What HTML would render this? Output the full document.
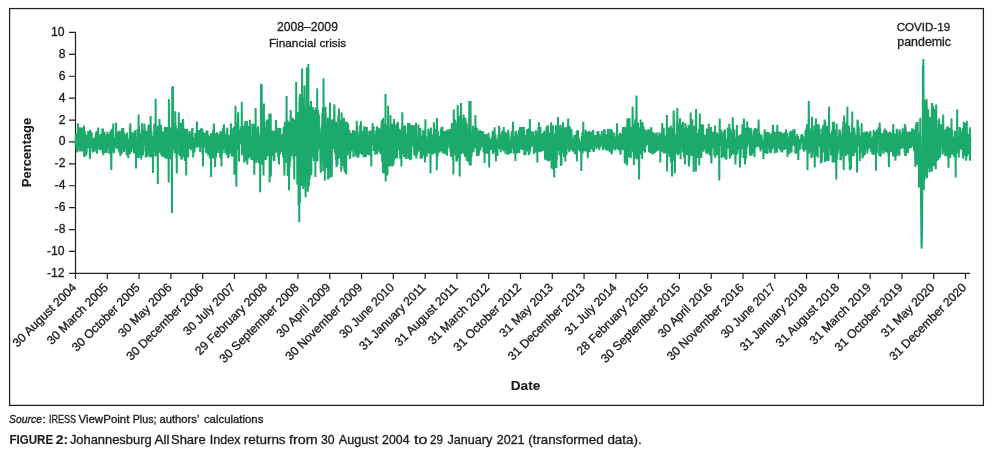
<!DOCTYPE html>
<html lang="en"><head><meta charset="utf-8"><title>Figure 2</title>
<style>
html,body{margin:0;padding:0;background:#fff;}
body{width:993px;height:459px;overflow:hidden;font-family:"Liberation Sans",sans-serif;color:#231f20;}
svg{display:block;position:absolute;left:0;top:0;}
text{font-family:"Liberation Sans",sans-serif;fill:#1f1b1d;stroke:#1f1b1d;stroke-width:0.32px;}
.tk{font-size:12.15px;}
.xl{font-size:12.12px;}
.b{font-weight:bold;stroke-width:0.12px;}
</style></head><body>
<svg width="993" height="459" viewBox="0 0 993 459">
<rect x="9.6" y="8.55" width="973.8" height="396.85" fill="#fff" stroke="#231f20" stroke-width="1.25"/>
<path d="M75.5,31.85 V278.9 M69,273.4 H970.1" fill="none" stroke="#231f20" stroke-width="1.2"/>
<text class="tk" x="64.6" y="36.0" text-anchor="end">10</text>
<text class="tk" x="65.4" y="57.9" text-anchor="end">8</text>
<text class="tk" x="65.4" y="79.8" text-anchor="end">6</text>
<text class="tk" x="65.4" y="101.6" text-anchor="end">4</text>
<text class="tk" x="65.4" y="123.5" text-anchor="end">2</text>
<text class="tk" x="65.4" y="145.4" text-anchor="end">0</text>
<text class="tk" x="65.4" y="167.3" text-anchor="end">-2</text>
<text class="tk" x="65.4" y="189.2" text-anchor="end">-4</text>
<text class="tk" x="65.4" y="211.1" text-anchor="end">-6</text>
<text class="tk" x="65.4" y="233.1" text-anchor="end">-8</text>
<text class="tk" x="64.6" y="254.9" text-anchor="end">-10</text>
<text class="tk" x="64.6" y="276.8" text-anchor="end">-12</text>
<path d="M69,32.45 H75.5 M69,54.35 H75.5 M69,76.25 H75.5 M69,98.15 H75.5 M69,120.05 H75.5 M69,141.95 H75.5 M69,163.85 H75.5 M69,185.75 H75.5 M69,207.65 H75.5 M69,229.55 H75.5 M69,251.45 H75.5" stroke="#231f20" stroke-width="1.2" fill="none"/>
<text class="xl" transform="translate(77.0,288.2) rotate(-45)" text-anchor="end">30 August 2004</text>
<text class="xl" transform="translate(108.8,288.2) rotate(-45)" text-anchor="end">30 March 2005</text>
<text class="xl" transform="translate(140.6,288.2) rotate(-45)" text-anchor="end">30 October 2005</text>
<text class="xl" transform="translate(172.4,288.2) rotate(-45)" text-anchor="end">30 May 2006</text>
<text class="xl" transform="translate(204.1,288.2) rotate(-45)" text-anchor="end">30 December 2006</text>
<text class="xl" transform="translate(235.9,288.2) rotate(-45)" text-anchor="end" textLength="67.6" lengthAdjust="spacingAndGlyphs">30 July 2007</text>
<text class="xl" transform="translate(267.7,288.2) rotate(-45)" text-anchor="end">29 February 2008</text>
<text class="xl" transform="translate(299.5,288.2) rotate(-45)" text-anchor="end">30 September 2008</text>
<text class="xl" transform="translate(331.3,288.2) rotate(-45)" text-anchor="end">30 April 2009</text>
<text class="xl" transform="translate(363.1,288.2) rotate(-45)" text-anchor="end">30 November 2009</text>
<text class="xl" transform="translate(394.9,288.2) rotate(-45)" text-anchor="end" textLength="71.6" lengthAdjust="spacingAndGlyphs">30 June 2010</text>
<text class="xl" transform="translate(426.6,288.2) rotate(-45)" text-anchor="end" textLength="88.6" lengthAdjust="spacingAndGlyphs">31 January 2011</text>
<text class="xl" transform="translate(458.4,288.2) rotate(-45)" text-anchor="end">31 August 2011</text>
<text class="xl" transform="translate(490.2,288.2) rotate(-45)" text-anchor="end">31 March 2012</text>
<text class="xl" transform="translate(522.0,288.2) rotate(-45)" text-anchor="end">31 October 2012</text>
<text class="xl" transform="translate(553.8,288.2) rotate(-45)" text-anchor="end">31 May 2013</text>
<text class="xl" transform="translate(585.6,288.2) rotate(-45)" text-anchor="end">31 December 2013</text>
<text class="xl" transform="translate(617.4,288.2) rotate(-45)" text-anchor="end" textLength="67.6" lengthAdjust="spacingAndGlyphs">31 July 2014</text>
<text class="xl" transform="translate(649.1,288.2) rotate(-45)" text-anchor="end">28 February 2015</text>
<text class="xl" transform="translate(680.9,288.2) rotate(-45)" text-anchor="end">30 September 2015</text>
<text class="xl" transform="translate(712.7,288.2) rotate(-45)" text-anchor="end">30 April 2016</text>
<text class="xl" transform="translate(744.5,288.2) rotate(-45)" text-anchor="end">30 November 2016</text>
<text class="xl" transform="translate(776.3,288.2) rotate(-45)" text-anchor="end" textLength="71.6" lengthAdjust="spacingAndGlyphs">30 June 2017</text>
<text class="xl" transform="translate(808.1,288.2) rotate(-45)" text-anchor="end" textLength="89.5" lengthAdjust="spacingAndGlyphs">31 January 2018</text>
<text class="xl" transform="translate(839.9,288.2) rotate(-45)" text-anchor="end">31 August 2018</text>
<text class="xl" transform="translate(871.7,288.2) rotate(-45)" text-anchor="end">31 March 2019</text>
<text class="xl" transform="translate(903.4,288.2) rotate(-45)" text-anchor="end">31 October 2019</text>
<text class="xl" transform="translate(935.2,288.2) rotate(-45)" text-anchor="end">31 May 2020</text>
<text class="xl" transform="translate(967.0,288.2) rotate(-45)" text-anchor="end">31 December 2020</text>
<path d="M107.29,273.4 v5.5 M139.07,273.4 v5.5 M170.86,273.4 v5.5 M202.64,273.4 v5.5 M234.43,273.4 v5.5 M266.22,273.4 v5.5 M298.00,273.4 v5.5 M329.79,273.4 v5.5 M361.57,273.4 v5.5 M393.36,273.4 v5.5 M425.15,273.4 v5.5 M456.93,273.4 v5.5 M488.72,273.4 v5.5 M520.50,273.4 v5.5 M552.29,273.4 v5.5 M584.08,273.4 v5.5 M615.86,273.4 v5.5 M647.65,273.4 v5.5 M679.43,273.4 v5.5 M711.22,273.4 v5.5 M743.01,273.4 v5.5 M774.79,273.4 v5.5 M806.58,273.4 v5.5 M838.36,273.4 v5.5 M870.15,273.4 v5.5 M901.94,273.4 v5.5 M933.72,273.4 v5.5 M965.51,273.4 v5.5" stroke="#231f20" stroke-width="1.2" fill="none"/>
<path d="M75.5,141.8 75.7,144.5 75.9,139.3 76.2,133.7 76.4,145.9 76.6,150.8 76.8,141.3 77.0,152.4 77.2,146.3 77.5,136.2 77.7,146.3 77.9,123.2 78.1,140.7 78.3,148.4 78.6,141.5 78.8,146.8 79.0,127.2 79.2,145.1 79.4,151.3 79.6,151.0 79.9,127.3 80.1,143.5 80.3,128.2 80.5,143.8 80.7,140.2 81.0,139.8 81.2,151.5 81.4,145.7 81.6,141.3 81.8,142.7 82.0,127.6 82.3,146.2 82.5,150.7 82.7,149.2 82.9,151.5 83.1,134.7 83.4,142.1 83.6,134.0 83.8,136.7 84.0,125.4 84.2,157.2 84.5,141.3 84.7,130.7 84.9,142.6 85.1,155.2 85.3,155.2 85.5,134.1 85.8,143.0 86.0,136.0 86.2,155.3 86.4,135.0 86.6,152.9 86.9,141.2 87.1,147.2 87.3,140.3 87.5,136.3 87.7,142.5 87.9,148.0 88.2,131.0 88.4,148.1 88.6,143.7 88.8,137.6 89.0,143.2 89.3,131.0 89.5,136.5 89.7,143.9 89.9,158.9 90.1,153.7 90.3,129.8 90.6,134.6 90.8,148.6 91.0,132.0 91.2,138.4 91.4,142.6 91.7,132.5 91.9,147.3 92.1,139.4 92.3,144.8 92.5,140.0 92.7,152.4 93.0,145.2 93.2,138.7 93.4,138.1 93.6,142.8 93.8,139.8 94.1,151.0 94.3,141.7 94.5,145.5 94.7,151.5 94.9,147.2 95.1,141.6 95.4,136.3 95.6,144.7 95.8,133.1 96.0,141.9 96.2,146.7 96.5,131.1 96.7,139.0 96.9,153.0 97.1,153.0 97.3,139.3 97.5,149.3 97.8,143.2 98.0,132.9 98.2,127.6 98.4,147.1 98.6,140.5 98.9,146.0 99.1,140.7 99.3,143.6 99.5,137.1 99.7,146.0 99.9,150.2 100.2,142.5 100.4,142.1 100.6,133.7 100.8,143.9 101.0,148.8 101.3,149.7 101.5,143.4 101.7,141.2 101.9,147.8 102.1,143.1 102.4,128.4 102.6,153.3 102.8,145.5 103.0,128.5 103.2,133.4 103.4,155.4 103.7,134.3 103.9,150.5 104.1,149.8 104.3,140.8 104.5,131.7 104.8,152.1 105.0,152.8 105.2,141.3 105.4,144.1 105.6,140.6 105.8,134.4 106.1,150.9 106.3,146.3 106.5,141.4 106.7,135.5 106.9,136.9 107.2,153.1 107.4,131.8 107.6,140.6 107.8,134.2 108.0,141.7 108.2,148.0 108.5,139.2 108.7,146.9 108.9,141.8 109.1,145.2 109.3,138.8 109.6,153.9 109.8,133.6 110.0,154.0 110.2,135.0 110.4,131.1 110.6,144.9 110.9,156.8 111.1,156.8 111.3,169.9 111.5,148.9 111.7,129.1 112.0,150.1 112.2,141.6 112.4,142.7 112.6,134.7 112.8,137.5 113.0,137.5 113.3,123.6 113.5,151.4 113.7,152.3 113.9,153.3 114.1,137.8 114.4,144.4 114.6,141.6 114.8,145.7 115.0,146.2 115.2,137.2 115.4,144.9 115.7,140.7 115.9,141.7 116.1,122.6 116.3,148.7 116.5,139.0 116.8,137.7 117.0,132.0 117.2,134.9 117.4,133.9 117.6,143.1 117.8,137.4 118.1,148.6 118.3,135.0 118.5,149.9 118.7,145.8 118.9,130.8 119.2,152.7 119.4,149.4 119.6,147.1 119.8,151.2 120.0,130.9 120.3,156.1 120.5,154.1 120.7,130.9 120.9,135.1 121.1,152.7 121.3,141.7 121.6,150.9 121.8,153.9 122.0,128.2 122.2,144.2 122.4,141.4 122.7,144.1 122.9,141.5 123.1,149.6 123.3,128.1 123.5,143.4 123.7,131.9 124.0,151.9 124.2,137.3 124.4,142.3 124.6,144.9 124.8,149.3 125.1,135.9 125.3,149.4 125.5,133.9 125.7,143.3 125.9,134.8 126.1,145.3 126.4,138.3 126.6,154.8 126.8,154.8 127.0,132.5 127.2,140.9 127.5,141.7 127.7,154.8 127.9,146.3 128.1,149.1 128.3,158.3 128.5,142.6 128.8,138.7 129.0,152.2 129.2,141.6 129.4,153.8 129.6,148.1 129.9,127.4 130.1,153.9 130.3,123.2 130.5,128.0 130.7,142.3 130.9,152.1 131.2,132.1 131.4,151.7 131.6,140.2 131.8,141.3 132.0,142.3 132.3,141.4 132.5,148.9 132.7,136.1 132.9,140.0 133.1,132.8 133.3,137.4 133.6,147.9 133.8,132.4 134.0,153.2 134.2,140.7 134.4,141.9 134.7,130.3 134.9,153.8 135.1,130.3 135.3,137.8 135.5,147.9 135.8,144.8 136.0,168.5 136.2,143.8 136.4,142.3 136.6,141.1 136.8,150.6 137.1,139.2 137.3,143.9 137.5,129.0 137.7,145.8 137.9,141.8 138.2,157.7 138.4,135.6 138.6,114.5 138.8,157.9 139.0,126.2 139.2,153.6 139.5,130.2 139.7,149.5 139.9,143.1 140.1,144.3 140.3,138.6 140.6,139.2 140.8,142.5 141.0,157.3 141.2,134.6 141.4,159.4 141.6,133.8 141.9,149.5 142.1,123.3 142.3,134.8 142.5,142.7 142.7,137.0 143.0,155.3 143.2,140.9 143.4,129.7 143.6,136.4 143.8,144.5 144.0,138.8 144.3,143.1 144.5,123.5 144.7,144.6 144.9,130.1 145.1,129.7 145.4,151.0 145.6,133.9 145.8,157.7 146.0,138.4 146.2,135.2 146.4,143.9 146.7,141.9 146.9,130.8 147.1,146.9 147.3,156.5 147.5,139.0 147.8,139.6 148.0,153.3 148.2,137.6 148.4,125.2 148.6,127.1 148.8,124.8 149.1,152.2 149.3,127.4 149.5,157.1 149.7,144.8 149.9,134.5 150.2,124.1 150.4,139.6 150.6,116.1 150.8,126.6 151.0,142.3 151.2,157.3 151.5,130.9 151.7,152.8 151.9,151.8 152.1,136.1 152.3,138.5 152.6,144.7 152.8,138.9 153.0,173.1 153.2,146.0 153.4,141.3 153.7,139.1 153.9,143.0 154.1,148.9 154.3,123.8 154.5,150.1 154.7,142.5 155.0,129.1 155.2,146.1 155.4,156.6 155.6,98.7 155.8,133.7 156.1,149.7 156.3,143.5 156.5,129.1 156.7,138.3 156.9,132.4 157.1,148.3 157.4,155.3 157.6,138.8 157.8,184.0 158.0,125.6 158.2,142.4 158.5,143.6 158.7,125.8 158.9,143.0 159.1,153.1 159.3,127.2 159.5,118.9 159.8,152.5 160.0,146.5 160.2,146.9 160.4,140.1 160.6,136.7 160.9,137.4 161.1,124.8 161.3,155.0 161.5,133.7 161.7,144.0 161.9,139.6 162.2,131.6 162.4,156.8 162.6,150.7 162.8,140.1 163.0,146.3 163.3,146.1 163.5,153.4 163.7,139.6 163.9,157.0 164.1,131.8 164.3,151.9 164.6,136.9 164.8,127.5 165.0,127.5 165.2,149.4 165.4,158.6 165.7,146.7 165.9,138.6 166.1,129.4 166.3,127.1 166.5,139.9 166.7,158.7 167.0,150.1 167.2,143.9 167.4,127.1 167.6,146.7 167.8,130.9 168.1,158.7 168.3,156.3 168.5,146.4 168.7,182.4 168.9,99.1 169.1,148.1 169.4,142.5 169.6,135.3 169.8,153.1 170.0,138.1 170.2,127.2 170.5,158.9 170.7,142.5 170.9,153.5 171.1,159.5 171.3,141.9 171.6,150.5 171.8,128.0 172.0,213.0 172.2,87.1 172.4,155.4 172.6,149.8 172.9,86.0 173.1,138.5 173.3,149.5 173.5,147.8 173.7,143.4 174.0,133.1 174.2,142.3 174.4,126.0 174.6,143.1 174.8,141.2 175.0,153.3 175.3,111.2 175.5,142.3 175.7,125.0 175.9,149.6 176.1,128.2 176.4,157.8 176.6,142.6 176.8,173.6 177.0,128.5 177.2,154.8 177.4,134.4 177.7,130.5 177.9,146.4 178.1,133.7 178.3,134.6 178.5,136.0 178.8,112.3 179.0,146.4 179.2,127.7 179.4,154.6 179.6,122.4 179.8,155.9 180.1,137.2 180.3,144.4 180.5,141.4 180.7,143.5 180.9,141.1 181.2,159.5 181.4,155.6 181.6,122.5 181.8,127.2 182.0,159.5 182.2,131.0 182.5,152.7 182.7,127.9 182.9,122.5 183.1,118.9 183.3,128.6 183.6,128.6 183.8,136.6 184.0,157.3 184.2,131.5 184.4,157.3 184.6,139.0 184.9,161.0 185.1,132.2 185.3,128.8 185.5,150.1 185.7,145.9 186.0,131.0 186.2,175.5 186.4,137.1 186.6,141.5 186.8,140.8 187.0,142.7 187.3,128.8 187.5,142.5 187.7,141.4 187.9,156.9 188.1,157.3 188.4,140.3 188.6,133.5 188.8,142.6 189.0,148.6 189.2,134.0 189.5,142.5 189.7,131.1 189.9,148.4 190.1,140.8 190.3,144.1 190.5,143.5 190.8,134.5 191.0,150.2 191.2,139.5 191.4,136.3 191.6,139.5 191.9,141.9 192.1,128.4 192.3,142.6 192.5,128.0 192.7,149.2 192.9,138.8 193.2,157.6 193.4,142.9 193.6,140.3 193.8,143.7 194.0,137.5 194.3,146.3 194.5,152.4 194.7,139.9 194.9,147.8 195.1,142.8 195.3,132.9 195.6,144.4 195.8,143.4 196.0,140.8 196.2,138.6 196.4,147.8 196.7,130.3 196.9,121.6 197.1,139.7 197.3,139.4 197.5,138.5 197.7,147.5 198.0,144.1 198.2,136.3 198.4,145.5 198.6,140.1 198.8,130.1 199.1,137.1 199.3,131.6 199.5,133.0 199.7,144.3 199.9,130.1 200.1,151.9 200.4,140.6 200.6,130.1 200.8,145.9 201.0,128.4 201.2,128.8 201.5,135.5 201.7,129.1 201.9,145.3 202.1,139.1 202.3,128.4 202.5,154.4 202.8,142.8 203.0,166.5 203.2,132.0 203.4,148.3 203.6,145.8 203.9,145.5 204.1,141.0 204.3,134.1 204.5,135.8 204.7,142.4 205.0,136.2 205.2,147.2 205.4,132.7 205.6,146.4 205.8,145.4 206.0,146.0 206.3,153.2 206.5,130.5 206.7,148.4 206.9,142.5 207.1,145.3 207.4,130.5 207.6,145.6 207.8,137.0 208.0,134.8 208.2,155.4 208.4,145.2 208.7,150.9 208.9,138.8 209.1,137.0 209.3,142.0 209.5,135.7 209.8,158.6 210.0,143.4 210.2,137.7 210.4,136.7 210.6,158.6 210.8,133.2 211.1,176.9 211.3,145.6 211.5,151.7 211.7,148.6 211.9,142.4 212.2,133.4 212.4,158.5 212.6,143.8 212.8,141.4 213.0,140.0 213.2,129.4 213.5,141.6 213.7,158.5 213.9,123.6 214.1,140.3 214.3,144.3 214.6,135.4 214.8,133.2 215.0,167.0 215.2,153.0 215.4,139.1 215.6,149.9 215.9,158.1 216.1,133.3 216.3,146.9 216.5,146.9 216.7,137.4 217.0,132.2 217.2,144.3 217.4,153.0 217.6,133.3 217.8,133.8 218.0,143.9 218.3,149.0 218.5,135.5 218.7,145.1 218.9,134.2 219.1,142.8 219.4,146.2 219.6,153.2 219.8,136.6 220.0,147.3 220.2,156.9 220.4,130.9 220.7,158.4 220.9,141.2 221.1,139.5 221.3,153.3 221.5,166.5 221.8,131.5 222.0,140.6 222.2,137.0 222.4,149.0 222.6,153.3 222.9,127.7 223.1,149.7 223.3,135.9 223.5,140.7 223.7,144.4 223.9,124.3 224.2,139.2 224.4,147.8 224.6,134.9 224.8,146.1 225.0,133.8 225.3,153.1 225.5,141.6 225.7,149.2 225.9,145.3 226.1,139.5 226.3,134.5 226.6,155.1 226.8,130.9 227.0,145.6 227.2,127.8 227.4,132.2 227.7,143.2 227.9,134.7 228.1,158.2 228.3,144.7 228.5,146.3 228.7,156.7 229.0,147.9 229.2,135.1 229.4,136.7 229.6,153.1 229.8,153.1 230.1,137.3 230.3,136.3 230.5,153.1 230.7,136.7 230.9,123.2 231.1,138.4 231.4,147.6 231.6,139.1 231.8,156.4 232.0,145.9 232.2,150.1 232.5,138.7 232.7,148.9 232.9,138.4 233.1,128.2 233.3,156.7 233.5,139.1 233.8,129.6 234.0,126.8 234.2,141.6 234.4,174.7 234.6,131.1 234.9,154.9 235.1,147.4 235.3,142.7 235.5,105.7 235.7,145.8 235.9,157.4 236.2,137.7 236.4,186.7 236.6,137.4 236.8,140.8 237.0,134.3 237.3,149.9 237.5,123.1 237.7,142.2 237.9,123.1 238.1,112.3 238.3,121.4 238.6,130.9 238.8,131.4 239.0,161.5 239.2,141.0 239.4,142.9 239.7,137.4 239.9,140.4 240.1,135.1 240.3,143.1 240.5,129.6 240.8,137.6 241.0,126.7 241.2,141.1 241.4,144.7 241.6,135.8 241.8,101.7 242.1,155.3 242.3,139.5 242.5,153.0 242.7,138.5 242.9,143.7 243.2,125.5 243.4,133.5 243.6,140.8 243.8,149.9 244.0,125.5 244.2,162.6 244.5,152.3 244.7,135.4 244.9,152.2 245.1,132.4 245.3,121.1 245.6,161.1 245.8,152.7 246.0,137.3 246.2,151.5 246.4,149.6 246.6,155.1 246.9,121.1 247.1,136.1 247.3,164.4 247.5,134.2 247.7,137.5 248.0,145.8 248.2,126.1 248.4,144.4 248.6,158.7 248.8,132.9 249.0,153.5 249.3,157.2 249.5,134.7 249.7,151.3 249.9,119.8 250.1,152.0 250.4,140.0 250.6,136.0 250.8,140.1 251.0,151.1 251.2,141.2 251.4,159.9 251.7,136.1 251.9,136.5 252.1,147.6 252.3,123.8 252.5,139.6 252.8,145.5 253.0,139.0 253.2,160.5 253.4,123.8 253.6,143.3 253.8,155.7 254.1,126.6 254.3,174.7 254.5,142.9 254.7,133.6 254.9,140.8 255.2,149.2 255.4,148.2 255.6,107.9 255.8,142.3 256.0,157.2 256.3,162.7 256.5,157.6 256.7,134.4 256.9,128.4 257.1,129.3 257.3,159.8 257.6,149.4 257.8,142.3 258.0,126.2 258.2,156.9 258.4,135.8 258.7,162.8 258.9,162.8 259.1,136.6 259.3,140.0 259.5,139.5 259.7,162.8 260.0,135.9 260.2,192.2 260.4,132.1 260.6,143.2 260.8,126.4 261.1,83.8 261.3,131.7 261.5,121.4 261.7,84.4 261.9,164.4 262.1,138.0 262.4,121.6 262.6,133.7 262.8,157.9 263.0,152.1 263.2,144.5 263.5,175.5 263.7,128.8 263.9,103.5 264.1,140.4 264.3,147.4 264.5,121.3 264.8,133.7 265.0,159.9 265.2,137.2 265.4,142.1 265.6,143.3 265.9,159.7 266.1,136.5 266.3,128.2 266.5,156.8 266.7,153.6 266.9,119.5 267.2,128.9 267.4,145.7 267.6,139.3 267.8,119.5 268.0,156.0 268.3,140.0 268.5,148.8 268.7,153.0 268.9,135.0 269.1,138.5 269.3,113.4 269.6,182.4 269.8,140.5 270.0,158.1 270.2,141.6 270.4,133.2 270.7,113.6 270.9,176.6 271.1,151.0 271.3,132.3 271.5,143.8 271.7,132.7 272.0,153.6 272.2,155.7 272.4,130.6 272.6,144.1 272.8,149.6 273.1,143.1 273.3,142.9 273.5,155.8 273.7,160.8 273.9,131.0 274.2,141.3 274.4,161.1 274.6,139.9 274.8,134.9 275.0,145.9 275.2,134.3 275.5,142.4 275.7,136.8 275.9,119.9 276.1,127.9 276.3,152.7 276.6,134.5 276.8,143.6 277.0,141.1 277.2,130.9 277.4,147.4 277.6,134.4 277.9,139.9 278.1,157.5 278.3,127.8 278.5,157.6 278.7,135.1 279.0,164.4 279.2,128.5 279.4,143.1 279.6,128.0 279.8,138.0 280.0,154.3 280.3,128.1 280.5,148.1 280.7,137.1 280.9,152.3 281.1,134.4 281.4,137.7 281.6,141.5 281.8,149.8 282.0,149.2 282.2,142.8 282.4,141.5 282.7,134.7 282.9,147.9 283.1,157.7 283.3,139.1 283.5,130.6 283.8,126.6 284.0,150.3 284.2,161.6 284.4,175.6 284.6,153.3 284.8,137.2 285.1,121.8 285.3,162.4 285.5,162.9 285.7,126.0 285.9,152.9 286.2,128.2 286.4,128.7 286.6,96.1 286.8,152.5 287.0,128.6 287.2,143.8 287.5,120.0 287.7,176.0 287.9,158.4 288.1,169.1 288.3,167.2 288.6,136.7 288.8,121.7 289.0,190.2 289.2,123.0 289.4,123.0 289.6,167.3 289.9,141.3 290.1,131.5 290.3,161.5 290.5,144.6 290.7,110.1 291.0,142.2 291.2,139.7 291.4,156.0 291.6,117.6 291.8,150.3 292.1,136.2 292.3,145.9 292.5,139.9 292.7,120.9 292.9,117.9 293.1,132.5 293.4,151.5 293.6,159.2 293.8,149.4 294.0,135.3 294.2,179.5 294.5,119.5 294.7,149.8 294.9,119.4 295.1,125.7 295.3,156.1 295.5,153.1 295.8,154.8 296.0,140.8 296.2,82.0 296.4,137.1 296.6,119.8 296.9,148.6 297.1,119.7 297.3,184.6 297.5,163.8 297.7,163.6 297.9,148.5 298.2,150.3 298.4,112.0 298.6,205.4 298.8,115.9 299.0,185.1 299.3,222.3 299.5,105.5 299.7,96.5 299.9,203.2 300.1,93.9 300.3,151.4 300.6,129.6 300.8,139.5 301.0,160.6 301.2,185.9 301.4,148.3 301.7,136.8 301.9,174.0 302.1,68.5 302.3,150.5 302.5,171.2 302.7,140.4 303.0,97.8 303.2,188.9 303.4,132.1 303.6,172.9 303.8,130.3 304.1,115.7 304.3,133.1 304.5,85.5 304.7,145.9 304.9,186.8 305.1,108.8 305.4,179.2 305.6,197.3 305.8,155.5 306.0,175.7 306.2,118.1 306.5,165.1 306.7,116.1 306.9,67.4 307.1,153.9 307.3,109.3 307.5,103.0 307.8,191.7 308.0,184.8 308.2,120.0 308.4,64.1 308.6,157.4 308.9,186.5 309.1,106.2 309.3,179.6 309.5,116.8 309.7,179.5 310.0,121.5 310.2,116.6 310.4,145.2 310.6,108.6 310.8,109.6 311.0,100.9 311.3,175.3 311.5,149.9 311.7,135.6 311.9,146.6 312.1,149.6 312.4,147.9 312.6,112.1 312.8,107.0 313.0,141.8 313.2,156.9 313.4,139.1 313.7,137.2 313.9,161.1 314.1,128.5 314.3,109.5 314.5,149.2 314.8,127.7 315.0,114.1 315.2,114.2 315.4,177.0 315.6,134.1 315.8,107.5 316.1,121.7 316.3,147.7 316.5,136.5 316.7,128.0 316.9,147.4 317.2,88.2 317.4,161.4 317.6,150.0 317.8,150.9 318.0,110.2 318.2,140.5 318.5,118.4 318.7,145.5 318.9,114.5 319.1,149.3 319.3,128.6 319.6,149.1 319.8,140.4 320.0,138.7 320.2,134.3 320.4,159.5 320.6,167.0 320.9,172.8 321.1,142.6 321.3,159.2 321.5,130.0 321.7,125.4 322.0,137.7 322.2,123.4 322.4,112.6 322.6,158.9 322.8,107.7 323.0,157.8 323.3,170.9 323.5,78.3 323.7,114.9 323.9,155.9 324.1,116.3 324.4,127.2 324.6,116.3 324.8,180.6 325.0,142.0 325.2,121.7 325.5,106.8 325.7,117.1 325.9,139.2 326.1,150.6 326.3,130.5 326.5,130.6 326.8,167.9 327.0,143.1 327.2,124.5 327.4,140.7 327.6,144.2 327.9,117.4 328.1,179.5 328.3,139.6 328.5,146.3 328.7,153.7 328.9,170.2 329.2,132.7 329.4,126.6 329.6,177.9 329.8,166.9 330.0,102.4 330.3,141.0 330.5,169.2 330.7,135.0 330.9,142.7 331.1,133.6 331.3,157.5 331.6,137.7 331.8,176.9 332.0,123.0 332.2,120.1 332.4,120.1 332.7,136.3 332.9,138.3 333.1,148.8 333.3,122.1 333.5,143.0 333.7,141.7 334.0,143.4 334.2,109.4 334.4,104.2 334.6,121.1 334.8,151.9 335.1,136.4 335.3,154.3 335.5,126.1 335.7,133.2 335.9,159.5 336.1,121.5 336.4,163.4 336.6,167.1 336.8,139.4 337.0,145.1 337.2,127.9 337.5,165.1 337.7,145.5 337.9,131.2 338.1,148.2 338.3,115.2 338.5,157.1 338.8,141.4 339.0,108.6 339.2,158.6 339.4,143.2 339.6,146.2 339.9,128.1 340.1,151.0 340.3,137.8 340.5,155.5 340.7,120.3 340.9,142.6 341.2,171.4 341.4,160.9 341.6,112.6 341.8,120.8 342.0,166.2 342.3,137.9 342.5,118.8 342.7,130.6 342.9,165.0 343.1,148.4 343.4,130.4 343.6,136.2 343.8,147.0 344.0,117.8 344.2,169.2 344.4,122.9 344.7,169.0 344.9,172.3 345.1,131.7 345.3,121.7 345.5,139.9 345.8,137.3 346.0,149.8 346.2,174.5 346.4,147.1 346.6,127.5 346.8,121.5 347.1,150.9 347.3,138.6 347.5,153.8 347.7,155.2 347.9,137.1 348.2,123.5 348.4,152.6 348.6,137.1 348.8,131.7 349.0,144.8 349.2,130.1 349.5,148.5 349.7,131.1 349.9,159.0 350.1,147.6 350.3,157.5 350.6,144.6 350.8,137.8 351.0,135.1 351.2,151.1 351.4,147.5 351.6,133.0 351.9,140.1 352.1,134.5 352.3,149.2 352.5,145.7 352.7,142.9 353.0,130.0 353.2,135.6 353.4,157.3 353.6,142.5 353.8,140.7 354.0,135.5 354.3,152.2 354.5,130.7 354.7,139.0 354.9,148.3 355.1,147.7 355.4,136.9 355.6,148.1 355.8,156.2 356.0,137.8 356.2,153.2 356.4,156.2 356.7,120.7 356.9,129.0 357.1,155.9 357.3,126.0 357.5,157.7 357.8,131.8 358.0,156.5 358.2,134.9 358.4,157.7 358.6,153.7 358.8,140.6 359.1,144.2 359.3,140.8 359.5,139.7 359.7,146.6 359.9,141.4 360.2,125.3 360.4,153.7 360.6,144.1 360.8,130.6 361.0,121.3 361.3,131.5 361.5,141.1 361.7,150.8 361.9,131.0 362.1,154.7 362.3,148.8 362.6,149.0 362.8,144.0 363.0,131.1 363.2,150.5 363.4,144.4 363.7,157.2 363.9,138.5 364.1,144.8 364.3,126.2 364.5,157.2 364.7,126.2 365.0,142.2 365.2,139.3 365.4,157.1 365.6,131.5 365.8,157.0 366.1,133.8 366.3,127.7 366.5,135.8 366.7,151.9 366.9,126.9 367.1,154.4 367.4,139.5 367.6,144.7 367.8,150.8 368.0,146.1 368.2,138.7 368.5,149.7 368.7,155.1 368.9,142.5 369.1,136.0 369.3,131.1 369.5,131.4 369.8,146.9 370.0,130.9 370.2,155.5 370.4,130.4 370.6,140.3 370.9,138.4 371.1,153.0 371.3,166.5 371.5,147.5 371.7,134.0 371.9,143.7 372.2,144.6 372.4,130.5 372.6,123.2 372.8,128.4 373.0,126.6 373.3,145.0 373.5,138.3 373.7,126.4 373.9,151.1 374.1,135.7 374.3,147.2 374.6,134.4 374.8,147.9 375.0,136.9 375.2,154.7 375.4,144.9 375.7,138.3 375.9,147.4 376.1,130.4 376.3,144.6 376.5,135.4 376.8,154.6 377.0,126.3 377.2,153.1 377.4,128.7 377.6,130.7 377.8,127.5 378.1,150.1 378.3,140.1 378.5,151.6 378.7,134.6 378.9,133.6 379.2,151.6 379.4,128.5 379.6,147.0 379.8,128.5 380.0,132.7 380.2,152.4 380.5,153.3 380.7,154.1 380.9,142.1 381.1,127.4 381.3,144.8 381.6,121.6 381.8,120.3 382.0,143.6 382.2,161.8 382.4,139.0 382.6,144.2 382.9,172.4 383.1,118.1 383.3,142.9 383.5,123.5 383.7,173.6 384.0,136.7 384.2,161.8 384.4,169.1 384.6,137.6 384.8,170.7 385.0,140.1 385.3,170.8 385.5,94.1 385.7,181.6 385.9,157.9 386.1,127.3 386.4,163.9 386.6,124.9 386.8,165.5 387.0,150.4 387.2,132.8 387.4,175.5 387.7,137.6 387.9,155.9 388.1,105.7 388.3,147.1 388.5,153.2 388.8,132.7 389.0,135.5 389.2,166.6 389.4,134.9 389.6,166.5 389.8,144.5 390.1,126.7 390.3,143.7 390.5,115.0 390.7,165.9 390.9,130.2 391.2,128.5 391.4,131.3 391.6,164.5 391.8,156.1 392.0,137.0 392.2,123.7 392.5,166.4 392.7,126.9 392.9,165.4 393.1,127.2 393.3,127.3 393.6,164.4 393.8,130.8 394.0,119.1 394.2,145.3 394.4,140.8 394.7,159.4 394.9,132.0 395.1,135.2 395.3,144.6 395.5,125.0 395.7,140.7 396.0,157.4 396.2,132.0 396.4,138.3 396.6,123.5 396.8,157.4 397.1,158.3 397.3,128.5 397.5,148.4 397.7,142.6 397.9,121.7 398.1,146.2 398.4,134.6 398.6,147.9 398.8,131.2 399.0,150.2 399.2,149.2 399.5,128.8 399.7,137.8 399.9,140.4 400.1,155.0 400.3,158.9 400.5,129.8 400.8,141.4 401.0,144.0 401.2,131.0 401.4,166.5 401.6,151.2 401.9,145.5 402.1,145.8 402.3,112.3 402.5,136.8 402.7,143.7 402.9,126.5 403.2,154.2 403.4,135.6 403.6,125.5 403.8,132.1 404.0,157.3 404.3,144.7 404.5,133.1 404.7,125.6 404.9,126.9 405.1,127.5 405.3,125.6 405.6,137.6 405.8,134.1 406.0,158.9 406.2,135.0 406.4,147.4 406.7,153.6 406.9,134.8 407.1,135.4 407.3,143.8 407.5,143.8 407.7,147.8 408.0,123.1 408.2,158.8 408.4,156.9 408.6,131.4 408.8,136.7 409.1,123.7 409.3,134.0 409.5,136.0 409.7,123.2 409.9,132.1 410.1,159.4 410.4,159.4 410.6,155.3 410.8,146.8 411.0,140.4 411.2,159.4 411.5,126.4 411.7,144.0 411.9,124.9 412.1,143.8 412.3,136.5 412.6,140.4 412.8,146.2 413.0,125.4 413.2,130.4 413.4,130.8 413.6,126.0 413.9,148.4 414.1,140.5 414.3,154.5 414.5,141.8 414.7,155.5 415.0,147.5 415.2,125.3 415.4,156.1 415.6,128.4 415.8,125.4 416.0,122.7 416.3,158.4 416.5,137.7 416.7,150.9 416.9,141.0 417.1,154.5 417.4,151.5 417.6,141.8 417.8,141.2 418.0,140.3 418.2,147.8 418.4,124.5 418.7,141.9 418.9,129.6 419.1,136.7 419.3,151.4 419.5,150.3 419.8,140.4 420.0,150.6 420.2,141.6 420.4,127.9 420.6,158.9 420.8,152.3 421.1,137.3 421.3,146.6 421.5,157.3 421.7,135.6 421.9,141.7 422.2,158.3 422.4,135.5 422.6,138.5 422.8,151.1 423.0,138.0 423.2,130.0 423.5,142.6 423.7,143.6 423.9,155.6 424.1,139.5 424.3,144.9 424.6,135.8 424.8,155.6 425.0,162.4 425.2,142.3 425.4,119.3 425.6,155.0 425.9,136.1 426.1,156.0 426.3,139.8 426.5,156.9 426.7,149.9 427.0,147.8 427.2,154.3 427.4,146.3 427.6,138.8 427.8,139.6 428.0,153.4 428.3,128.7 428.5,133.5 428.7,153.0 428.9,130.9 429.1,151.3 429.4,151.1 429.6,145.2 429.8,131.9 430.0,143.5 430.2,137.4 430.5,173.6 430.7,143.6 430.9,127.4 431.1,146.1 431.3,134.8 431.5,142.7 431.8,154.0 432.0,144.9 432.2,134.2 432.4,151.1 432.6,140.0 432.9,154.4 433.1,137.5 433.3,140.2 433.5,153.4 433.7,151.1 433.9,122.2 434.2,128.7 434.4,145.5 434.6,136.6 434.8,146.8 435.0,140.2 435.3,135.4 435.5,140.0 435.7,153.6 435.9,139.8 436.1,128.8 436.3,144.9 436.6,134.3 436.8,170.3 437.0,118.1 437.2,141.0 437.4,144.5 437.7,156.4 437.9,131.0 438.1,146.1 438.3,136.5 438.5,144.0 438.7,139.3 439.0,145.3 439.2,152.6 439.4,149.7 439.6,138.6 439.8,143.1 440.1,145.0 440.3,135.5 440.5,148.9 440.7,142.4 440.9,129.0 441.1,151.4 441.4,127.3 441.6,149.4 441.8,136.9 442.0,133.3 442.2,127.4 442.5,127.4 442.7,153.4 442.9,137.4 443.1,145.3 443.3,137.6 443.5,142.9 443.8,130.9 444.0,147.1 444.2,130.9 444.4,148.9 444.6,146.2 444.9,154.1 445.1,130.9 445.3,131.8 445.5,142.0 445.7,135.9 446.0,147.7 446.2,131.9 446.4,133.9 446.6,132.7 446.8,146.5 447.0,155.8 447.3,129.5 447.5,146.0 447.7,148.6 447.9,144.8 448.1,133.0 448.4,144.8 448.6,132.8 448.8,140.7 449.0,131.3 449.2,131.2 449.4,142.7 449.7,128.9 449.9,143.5 450.1,142.7 450.3,151.3 450.5,138.7 450.8,150.3 451.0,156.6 451.2,133.8 451.4,146.0 451.6,138.1 451.8,123.3 452.1,143.1 452.3,132.2 452.5,130.1 452.7,143.1 452.9,160.0 453.2,130.7 453.4,174.5 453.6,127.4 453.8,109.5 454.0,151.3 454.2,145.1 454.5,128.3 454.7,154.5 454.9,131.5 455.1,119.4 455.3,127.9 455.6,151.5 455.8,137.2 456.0,155.9 456.2,122.8 456.4,161.5 456.6,130.6 456.9,161.5 457.1,159.1 457.3,158.2 457.5,154.0 457.7,104.9 458.0,128.0 458.2,144.3 458.4,115.8 458.6,157.9 458.8,122.7 459.0,149.9 459.3,115.8 459.5,142.7 459.7,176.6 459.9,151.5 460.1,115.8 460.4,147.7 460.6,121.0 460.8,135.5 461.0,103.1 461.2,147.8 461.4,151.2 461.7,154.1 461.9,143.5 462.1,123.0 462.3,146.4 462.5,150.9 462.8,135.8 463.0,143.3 463.2,118.3 463.4,151.3 463.6,114.6 463.9,133.5 464.1,153.8 464.3,147.9 464.5,121.2 464.7,148.9 464.9,156.8 465.2,127.5 465.4,117.8 465.6,121.8 465.8,126.6 466.0,131.2 466.3,146.3 466.5,122.6 466.7,160.8 466.9,125.5 467.1,137.3 467.3,147.4 467.6,161.6 467.8,132.6 468.0,158.9 468.2,129.1 468.4,151.3 468.7,141.0 468.9,160.0 469.1,126.6 469.3,101.1 469.5,165.4 469.7,144.2 470.0,125.8 470.2,147.2 470.4,153.6 470.6,101.1 470.8,165.4 471.1,133.0 471.3,137.7 471.5,157.2 471.7,144.5 471.9,140.3 472.1,153.0 472.4,144.9 472.6,148.6 472.8,131.8 473.0,125.8 473.2,151.1 473.5,151.7 473.7,146.5 473.9,135.1 474.1,140.0 474.3,142.0 474.5,131.6 474.8,148.2 475.0,128.1 475.2,146.7 475.4,115.0 475.6,139.1 475.9,145.2 476.1,127.1 476.3,148.3 476.5,143.8 476.7,134.2 476.9,156.3 477.2,128.2 477.4,137.7 477.6,130.9 477.8,141.1 478.0,153.2 478.3,131.0 478.5,156.1 478.7,145.0 478.9,153.4 479.1,152.6 479.3,145.1 479.6,130.6 479.8,141.7 480.0,130.1 480.2,150.7 480.4,149.0 480.7,146.9 480.9,145.8 481.1,144.2 481.3,140.0 481.5,133.8 481.8,146.9 482.0,131.0 482.2,141.0 482.4,133.8 482.6,141.1 482.8,139.9 483.1,131.4 483.3,139.4 483.5,152.2 483.7,136.2 483.9,144.4 484.2,152.6 484.4,143.5 484.6,163.0 484.8,134.3 485.0,139.2 485.2,136.8 485.5,153.8 485.7,148.1 485.9,137.3 486.1,144.6 486.3,134.1 486.6,142.0 486.8,139.9 487.0,153.5 487.2,147.1 487.4,137.0 487.6,137.9 487.9,153.5 488.1,153.5 488.3,139.5 488.5,132.8 488.7,153.5 489.0,137.2 489.2,167.5 489.4,139.5 489.6,142.3 489.8,141.0 490.0,141.8 490.3,149.8 490.5,140.6 490.7,142.9 490.9,139.1 491.1,144.3 491.4,150.0 491.6,137.7 491.8,141.4 492.0,137.1 492.2,142.9 492.4,147.4 492.7,130.8 492.9,153.9 493.1,138.1 493.3,142.3 493.5,152.5 493.8,138.3 494.0,140.9 494.2,144.3 494.4,144.3 494.6,127.2 494.8,142.0 495.1,152.5 495.3,148.9 495.5,134.2 495.7,152.5 495.9,161.5 496.2,139.5 496.4,142.5 496.6,151.7 496.8,155.2 497.0,153.7 497.3,139.3 497.5,156.0 497.7,143.3 497.9,140.8 498.1,145.2 498.3,134.8 498.6,145.5 498.8,148.9 499.0,125.8 499.2,128.1 499.4,128.1 499.7,142.9 499.9,137.5 500.1,146.5 500.3,134.4 500.5,143.3 500.7,152.3 501.0,136.4 501.2,142.8 501.4,140.6 501.6,138.9 501.8,144.3 502.1,131.3 502.3,147.8 502.5,138.6 502.7,142.9 502.9,148.8 503.1,150.4 503.4,129.6 503.6,147.3 503.8,126.9 504.0,151.2 504.2,133.6 504.5,150.1 504.7,148.0 504.9,138.1 505.1,131.7 505.3,141.6 505.5,154.1 505.8,132.6 506.0,150.6 506.2,148.4 506.4,142.5 506.6,147.9 506.9,133.0 507.1,145.2 507.3,142.3 507.5,132.8 507.7,155.0 507.9,148.3 508.2,129.8 508.4,141.9 508.6,134.1 508.8,136.6 509.0,153.3 509.3,153.3 509.5,146.5 509.7,142.6 509.9,152.8 510.1,139.6 510.3,140.5 510.6,153.3 510.8,142.7 511.0,153.3 511.2,136.2 511.4,140.9 511.7,131.3 511.9,148.6 512.1,138.8 512.3,144.5 512.5,140.5 512.7,134.4 513.0,121.7 513.2,137.3 513.4,138.1 513.6,153.4 513.8,136.0 514.1,137.0 514.3,153.3 514.5,141.3 514.7,136.5 514.9,145.1 515.2,140.1 515.4,161.0 515.6,131.2 515.8,132.9 516.0,139.9 516.2,131.0 516.5,151.1 516.7,133.9 516.9,153.6 517.1,139.4 517.3,152.9 517.6,147.2 517.8,140.2 518.0,141.8 518.2,138.1 518.4,153.0 518.6,149.7 518.9,130.2 519.1,131.7 519.3,153.0 519.5,138.8 519.7,136.1 520.0,127.1 520.2,148.3 520.4,140.1 520.6,145.6 520.8,127.1 521.0,142.9 521.3,133.5 521.5,140.7 521.7,150.1 521.9,133.4 522.1,137.5 522.4,147.0 522.6,146.0 522.8,126.9 523.0,149.8 523.2,132.8 523.4,146.7 523.7,146.3 523.9,126.9 524.1,142.0 524.3,155.2 524.5,134.6 524.8,144.4 525.0,155.2 525.2,145.3 525.4,137.9 525.6,155.2 525.8,136.8 526.1,141.8 526.3,145.4 526.5,134.8 526.7,151.0 526.9,141.3 527.2,129.1 527.4,142.7 527.6,141.6 527.8,146.9 528.0,132.1 528.2,152.0 528.5,129.0 528.7,129.0 528.9,155.1 529.1,147.8 529.3,139.1 529.6,153.3 529.8,119.1 530.0,131.9 530.2,151.1 530.4,139.6 530.6,134.0 530.9,145.2 531.1,131.5 531.3,145.7 531.5,145.6 531.7,132.2 532.0,131.5 532.2,146.8 532.4,131.5 532.6,140.9 532.8,142.8 533.1,131.5 533.3,144.9 533.5,141.7 533.7,136.0 533.9,154.0 534.1,141.2 534.4,151.3 534.6,146.6 534.8,138.9 535.0,142.6 535.2,142.1 535.5,133.1 535.7,130.3 535.9,152.3 536.1,151.0 536.3,149.3 536.5,142.6 536.8,134.6 537.0,139.7 537.2,145.6 537.4,162.4 537.6,138.7 537.9,130.9 538.1,146.6 538.3,139.3 538.5,127.1 538.7,148.3 538.9,122.2 539.2,137.3 539.4,151.7 539.6,134.2 539.8,127.1 540.0,142.2 540.3,127.1 540.5,130.0 540.7,152.3 540.9,145.9 541.1,141.0 541.3,139.1 541.6,144.6 541.8,134.7 542.0,150.6 542.2,133.9 542.4,150.9 542.7,148.2 542.9,139.6 543.1,132.5 543.3,136.1 543.5,148.2 543.7,136.2 544.0,145.0 544.2,142.2 544.4,130.4 544.6,151.0 544.8,145.2 545.1,159.8 545.3,136.2 545.5,137.1 545.7,152.7 545.9,136.7 546.1,149.3 546.4,149.1 546.6,126.3 546.8,160.1 547.0,160.0 547.2,138.7 547.5,138.4 547.7,156.8 547.9,125.3 548.1,137.1 548.3,153.4 548.5,135.6 548.8,160.6 549.0,161.0 549.2,138.3 549.4,145.6 549.6,132.4 549.9,154.3 550.1,159.9 550.3,134.5 550.5,141.9 550.7,145.4 551.0,125.3 551.2,122.2 551.4,159.6 551.6,168.5 551.8,125.3 552.0,134.1 552.3,138.0 552.5,168.4 552.7,168.4 552.9,125.6 553.1,154.0 553.4,154.7 553.6,141.1 553.8,152.3 554.0,140.7 554.2,177.5 554.4,133.5 554.7,147.6 554.9,155.4 555.1,156.5 555.3,161.9 555.5,163.9 555.8,125.2 556.0,167.9 556.2,136.0 556.4,167.9 556.6,129.4 556.8,160.4 557.1,138.7 557.3,128.1 557.5,146.3 557.7,145.6 557.9,117.0 558.2,126.4 558.4,126.4 558.6,137.4 558.8,147.1 559.0,150.9 559.2,140.1 559.5,155.3 559.7,140.0 559.9,149.7 560.1,154.7 560.3,125.5 560.6,125.5 560.8,165.9 561.0,129.8 561.2,159.8 561.4,165.3 561.6,140.4 561.9,153.3 562.1,133.7 562.3,128.5 562.5,130.7 562.7,143.6 563.0,122.2 563.2,139.7 563.4,143.0 563.6,132.2 563.8,132.0 564.0,157.1 564.3,155.6 564.5,153.6 564.7,133.0 564.9,155.0 565.1,127.4 565.4,161.5 565.6,134.1 565.8,146.3 566.0,152.9 566.2,150.8 566.5,154.8 566.7,126.9 566.9,142.5 567.1,147.9 567.3,148.8 567.5,126.9 567.8,130.1 568.0,128.7 568.2,118.6 568.4,133.3 568.6,142.7 568.9,139.5 569.1,149.6 569.3,152.2 569.5,131.4 569.7,127.1 569.9,127.1 570.2,146.6 570.4,128.9 570.6,145.7 570.8,140.9 571.0,144.0 571.3,149.9 571.5,129.2 571.7,140.6 571.9,137.8 572.1,149.7 572.3,144.7 572.6,138.6 572.8,151.6 573.0,141.8 573.2,139.0 573.4,143.1 573.7,140.2 573.9,148.2 574.1,138.1 574.3,135.0 574.5,135.9 574.7,153.9 575.0,152.7 575.2,138.0 575.4,137.8 575.6,143.2 575.8,145.5 576.1,136.9 576.3,134.3 576.5,143.3 576.7,130.7 576.9,161.5 577.1,131.1 577.4,135.7 577.6,150.1 577.8,149.1 578.0,130.0 578.2,139.6 578.5,149.7 578.7,138.0 578.9,149.3 579.1,139.9 579.3,143.1 579.5,141.5 579.8,145.9 580.0,151.5 580.2,141.0 580.4,151.5 580.6,143.6 580.9,150.0 581.1,143.8 581.3,171.1 581.5,143.6 581.7,140.5 581.9,136.1 582.2,147.6 582.4,132.2 582.6,153.5 582.8,141.7 583.0,151.2 583.3,121.7 583.5,141.1 583.7,143.5 583.9,145.2 584.1,147.7 584.4,139.7 584.6,146.6 584.8,134.8 585.0,151.3 585.2,143.8 585.4,143.9 585.7,129.8 585.9,132.0 586.1,145.8 586.3,144.8 586.5,151.7 586.8,144.7 587.0,145.9 587.2,140.6 587.4,132.1 587.6,151.7 587.8,158.3 588.1,144.7 588.3,143.7 588.5,150.7 588.7,152.0 588.9,139.1 589.2,130.8 589.4,134.4 589.6,150.6 589.8,151.9 590.0,134.6 590.2,146.3 590.5,135.4 590.7,131.9 590.9,137.4 591.1,140.5 591.3,148.9 591.6,146.3 591.8,137.5 592.0,143.4 592.2,146.6 592.4,132.0 592.6,150.1 592.9,138.0 593.1,130.5 593.3,130.5 593.5,151.9 593.7,135.5 594.0,151.2 594.2,143.2 594.4,139.9 594.6,141.2 594.8,143.6 595.0,146.6 595.3,145.4 595.5,134.9 595.7,144.0 595.9,139.5 596.1,142.9 596.4,138.3 596.6,149.2 596.8,144.3 597.0,139.5 597.2,144.4 597.4,131.2 597.7,134.6 597.9,133.4 598.1,146.3 598.3,138.5 598.5,131.2 598.8,148.0 599.0,145.2 599.2,147.7 599.4,150.2 599.6,134.6 599.8,139.5 600.1,144.6 600.3,144.9 600.5,138.9 600.7,147.1 600.9,141.6 601.2,136.2 601.4,141.4 601.6,144.8 601.8,131.0 602.0,142.9 602.3,138.4 602.5,143.5 602.7,134.2 602.9,136.5 603.1,150.3 603.3,138.9 603.6,144.8 603.8,145.2 604.0,129.4 604.2,140.7 604.4,135.2 604.7,129.4 604.9,144.1 605.1,148.7 605.3,139.8 605.5,140.3 605.7,136.6 606.0,142.2 606.2,150.6 606.4,139.8 606.6,134.6 606.8,150.6 607.1,146.5 607.3,139.3 607.5,149.6 607.7,132.4 607.9,128.9 608.1,150.3 608.4,142.8 608.6,143.9 608.8,140.1 609.0,138.9 609.2,143.4 609.5,148.0 609.7,152.3 609.9,135.4 610.1,128.8 610.3,142.5 610.5,141.8 610.8,128.9 611.0,148.0 611.2,133.4 611.4,142.7 611.6,153.8 611.9,153.8 612.1,130.2 612.3,151.1 612.5,138.8 612.7,138.9 612.9,148.5 613.2,147.0 613.4,146.1 613.6,136.1 613.8,147.2 614.0,142.5 614.3,132.5 614.5,149.2 614.7,145.5 614.9,141.2 615.1,138.2 615.3,150.4 615.6,146.9 615.8,136.6 616.0,141.5 616.2,145.6 616.4,147.8 616.7,141.3 616.9,141.7 617.1,123.2 617.3,146.7 617.5,138.6 617.8,149.5 618.0,145.0 618.2,140.8 618.4,142.1 618.6,145.4 618.8,134.9 619.1,150.4 619.3,145.3 619.5,135.5 619.7,142.9 619.9,132.8 620.2,142.1 620.4,153.9 620.6,153.9 620.8,142.8 621.0,133.5 621.2,140.1 621.5,133.9 621.7,150.2 621.9,144.9 622.1,150.3 622.3,145.5 622.6,144.6 622.8,128.1 623.0,149.7 623.2,127.0 623.4,142.6 623.6,145.9 623.9,138.0 624.1,129.2 624.3,137.7 624.5,128.4 624.7,159.9 625.0,163.4 625.2,135.6 625.4,126.8 625.6,146.6 625.8,138.7 626.0,154.4 626.3,132.8 626.5,131.6 626.7,149.9 626.9,165.4 627.1,157.0 627.4,118.8 627.6,119.1 627.8,131.5 628.0,145.8 628.2,119.1 628.4,157.3 628.7,133.3 628.9,133.0 629.1,140.6 629.3,122.7 629.5,118.1 629.8,133.4 630.0,135.1 630.2,158.3 630.4,139.3 630.6,131.3 630.8,158.0 631.1,136.7 631.3,142.1 631.5,126.9 631.7,143.6 631.9,133.2 632.2,131.1 632.4,140.0 632.6,106.6 632.8,127.8 633.0,152.3 633.2,132.8 633.5,124.2 633.7,146.2 633.9,165.1 634.1,143.6 634.3,129.0 634.6,147.4 634.8,143.9 635.0,158.6 635.2,119.2 635.4,145.1 635.7,158.6 635.9,141.1 636.1,146.6 636.3,126.8 636.5,95.4 636.7,122.4 637.0,145.5 637.2,159.6 637.4,122.8 637.6,147.9 637.8,146.4 638.1,122.4 638.3,156.7 638.5,154.0 638.7,130.2 638.9,127.6 639.1,179.5 639.4,141.2 639.6,128.2 639.8,131.0 640.0,136.7 640.2,154.0 640.5,136.1 640.7,119.6 640.9,136.6 641.1,139.1 641.3,154.8 641.5,148.7 641.8,135.8 642.0,122.0 642.2,159.1 642.4,122.8 642.6,123.2 642.9,145.1 643.1,150.4 643.3,149.6 643.5,126.5 643.7,145.6 643.9,140.2 644.2,132.6 644.4,148.7 644.6,129.1 644.8,151.8 645.0,152.5 645.3,145.3 645.5,135.9 645.7,145.9 645.9,142.9 646.1,134.3 646.3,130.6 646.6,140.8 646.8,140.4 647.0,131.8 647.2,139.9 647.4,141.5 647.7,138.0 647.9,145.1 648.1,129.3 648.3,141.3 648.5,145.4 648.7,139.2 649.0,150.8 649.2,151.8 649.4,129.3 649.6,143.8 649.8,145.6 650.1,152.9 650.3,146.9 650.5,149.1 650.7,148.5 650.9,133.0 651.1,127.8 651.4,127.8 651.6,144.5 651.8,134.3 652.0,137.8 652.2,154.2 652.5,144.5 652.7,133.1 652.9,151.4 653.1,132.2 653.3,154.3 653.6,132.2 653.8,146.6 654.0,144.0 654.2,140.6 654.4,147.6 654.6,153.0 654.9,136.7 655.1,146.1 655.3,145.0 655.5,133.6 655.7,146.1 656.0,148.1 656.2,151.7 656.4,145.2 656.6,132.6 656.8,145.3 657.0,141.0 657.3,135.6 657.5,148.2 657.7,137.5 657.9,150.8 658.1,138.3 658.4,149.8 658.6,135.9 658.8,146.5 659.0,144.4 659.2,136.0 659.4,132.2 659.7,148.5 659.9,136.6 660.1,135.4 660.3,162.4 660.5,134.1 660.8,145.8 661.0,150.0 661.2,136.7 661.4,143.4 661.6,134.1 661.8,151.8 662.1,131.4 662.3,123.1 662.5,141.4 662.7,149.5 662.9,130.8 663.2,144.8 663.4,134.8 663.6,153.5 663.8,127.8 664.0,152.3 664.2,139.6 664.5,152.0 664.7,145.2 664.9,153.5 665.1,135.4 665.3,149.4 665.6,141.2 665.8,146.8 666.0,151.4 666.2,152.3 666.4,144.7 666.6,146.9 666.9,115.0 667.1,171.4 667.3,132.5 667.5,153.5 667.7,136.3 668.0,153.5 668.2,151.7 668.4,135.7 668.6,153.6 668.8,127.5 669.0,143.5 669.3,134.1 669.5,156.3 669.7,157.0 669.9,133.1 670.1,143.6 670.4,137.4 670.6,150.5 670.8,125.6 671.0,162.4 671.2,134.6 671.5,148.8 671.7,128.1 671.9,160.5 672.1,176.6 672.3,131.9 672.5,146.7 672.8,157.8 673.0,132.2 673.2,160.7 673.4,135.8 673.6,110.6 673.9,117.5 674.1,147.3 674.3,142.4 674.5,133.9 674.7,157.6 674.9,173.6 675.2,135.6 675.4,144.4 675.6,137.2 675.8,148.4 676.0,139.0 676.3,144.5 676.5,154.0 676.7,122.8 676.9,134.4 677.1,153.3 677.3,108.0 677.6,137.9 677.8,124.1 678.0,155.2 678.2,140.4 678.4,140.2 678.7,132.6 678.9,147.7 679.1,144.4 679.3,153.9 679.5,142.3 679.7,123.1 680.0,118.3 680.2,125.5 680.4,123.1 680.6,159.3 680.8,131.1 681.1,124.5 681.3,140.3 681.5,145.2 681.7,138.9 681.9,134.0 682.1,141.2 682.4,144.2 682.6,125.2 682.8,151.5 683.0,121.7 683.2,152.4 683.5,151.2 683.7,128.7 683.9,156.1 684.1,156.2 684.3,136.0 684.5,159.6 684.8,158.4 685.0,164.4 685.2,137.9 685.4,123.1 685.6,151.6 685.9,126.0 686.1,135.3 686.3,151.7 686.5,129.7 686.7,155.3 687.0,128.0 687.2,154.2 687.4,141.1 687.6,128.7 687.8,152.1 688.0,132.3 688.3,154.8 688.5,124.8 688.7,159.9 688.9,166.5 689.1,162.7 689.4,158.3 689.6,144.1 689.8,151.8 690.0,140.2 690.2,133.7 690.4,140.1 690.7,112.6 690.9,142.6 691.1,152.2 691.3,126.4 691.5,155.2 691.8,155.4 692.0,124.9 692.2,149.0 692.4,119.2 692.6,153.7 692.8,129.3 693.1,156.2 693.3,148.8 693.5,154.7 693.7,172.1 693.9,125.9 694.2,142.9 694.4,145.3 694.6,126.5 694.8,152.0 695.0,127.5 695.2,138.4 695.5,141.8 695.7,123.9 695.9,171.4 696.1,109.0 696.3,126.7 696.6,145.3 696.8,133.2 697.0,137.2 697.2,148.0 697.4,134.3 697.6,158.1 697.9,138.0 698.1,139.2 698.3,147.0 698.5,133.4 698.7,146.9 699.0,129.3 699.2,165.4 699.4,145.9 699.6,141.7 699.8,113.6 700.0,157.9 700.3,140.5 700.5,149.2 700.7,127.2 700.9,133.2 701.1,124.0 701.4,157.8 701.6,124.5 701.8,150.5 702.0,131.3 702.2,129.6 702.4,139.4 702.7,138.3 702.9,149.0 703.1,124.5 703.3,137.3 703.5,151.8 703.8,134.4 704.0,149.6 704.2,143.5 704.4,136.3 704.6,140.7 704.9,141.2 705.1,140.0 705.3,145.3 705.5,136.8 705.7,148.3 705.9,134.4 706.2,153.4 706.4,147.2 706.6,153.4 706.8,128.6 707.0,147.6 707.3,135.7 707.5,153.0 707.7,153.0 707.9,130.0 708.1,153.0 708.3,130.0 708.6,133.7 708.8,123.7 709.0,144.8 709.2,131.8 709.4,151.7 709.7,155.5 709.9,145.2 710.1,130.7 710.3,129.3 710.5,146.3 710.7,140.0 711.0,126.9 711.2,156.1 711.4,163.4 711.6,153.8 711.8,142.3 712.1,134.0 712.3,147.7 712.5,141.1 712.7,148.2 712.9,132.1 713.1,148.2 713.4,131.9 713.6,142.4 713.8,131.3 714.0,135.2 714.2,148.0 714.5,156.0 714.7,134.7 714.9,153.3 715.1,125.4 715.3,157.7 715.5,138.8 715.8,144.0 716.0,138.0 716.2,141.6 716.4,155.3 716.6,132.6 716.9,133.7 717.1,148.8 717.3,155.3 717.5,138.8 717.7,144.2 717.9,152.0 718.2,138.2 718.4,144.2 718.6,137.6 718.8,153.3 719.0,133.8 719.3,180.6 719.5,136.6 719.7,118.6 719.9,135.1 720.1,141.2 720.3,142.0 720.6,129.7 720.8,141.1 721.0,129.7 721.2,139.0 721.4,146.3 721.7,141.7 721.9,158.0 722.1,148.2 722.3,148.7 722.5,140.5 722.8,144.1 723.0,153.0 723.2,131.4 723.4,156.9 723.6,131.9 723.8,147.8 724.1,132.8 724.3,147.2 724.5,130.1 724.7,130.9 724.9,129.3 725.2,145.1 725.4,159.0 725.6,138.6 725.8,146.5 726.0,159.0 726.2,159.0 726.5,159.0 726.7,139.3 726.9,142.4 727.1,139.2 727.3,144.9 727.6,148.3 727.8,127.6 728.0,145.1 728.2,133.0 728.4,128.7 728.6,147.7 728.9,140.5 729.1,145.2 729.3,123.7 729.5,137.0 729.7,158.6 730.0,155.1 730.2,128.5 730.4,145.3 730.6,135.9 730.8,147.7 731.0,155.9 731.3,152.4 731.5,131.8 731.7,153.9 731.9,148.3 732.1,140.5 732.4,149.4 732.6,133.9 732.8,117.2 733.0,130.0 733.2,140.8 733.4,150.3 733.7,154.5 733.9,129.6 734.1,149.2 734.3,129.6 734.5,139.1 734.8,142.8 735.0,137.4 735.2,146.1 735.4,164.4 735.6,155.3 735.8,150.8 736.1,155.3 736.3,141.6 736.5,142.0 736.7,149.2 736.9,125.0 737.2,153.9 737.4,142.7 737.6,143.7 737.8,148.2 738.0,143.7 738.3,135.4 738.5,137.7 738.7,142.4 738.9,135.3 739.1,149.4 739.3,143.5 739.6,143.5 739.8,155.1 740.0,167.5 740.2,140.4 740.4,158.3 740.7,155.5 740.9,134.0 741.1,148.1 741.3,141.7 741.5,145.0 741.7,140.1 742.0,149.0 742.2,141.3 742.4,124.9 742.6,124.9 742.8,141.0 743.1,147.1 743.3,128.5 743.5,157.9 743.7,124.9 743.9,118.6 744.1,124.9 744.4,135.5 744.6,142.8 744.8,147.8 745.0,164.4 745.2,127.8 745.5,136.7 745.7,143.7 745.9,139.8 746.1,158.6 746.3,152.1 746.5,129.2 746.8,148.7 747.0,145.4 747.2,121.3 747.4,137.1 747.6,129.8 747.9,144.7 748.1,136.5 748.3,129.3 748.5,141.9 748.7,127.5 748.9,142.6 749.2,127.5 749.4,131.1 749.6,147.0 749.8,147.0 750.0,155.7 750.3,143.5 750.5,143.7 750.7,127.7 750.9,155.7 751.1,129.1 751.3,139.5 751.6,149.2 751.8,155.4 752.0,140.5 752.2,145.3 752.4,135.5 752.7,142.8 752.9,153.1 753.1,151.1 753.3,134.4 753.5,135.5 753.7,131.1 754.0,130.2 754.2,141.6 754.4,156.5 754.6,156.4 754.8,128.0 755.1,134.5 755.3,140.8 755.5,145.5 755.7,142.1 755.9,142.1 756.2,138.4 756.4,147.5 756.6,128.4 756.8,139.6 757.0,146.7 757.2,128.9 757.5,134.7 757.7,146.7 757.9,136.3 758.1,143.3 758.3,141.5 758.6,119.6 758.8,133.9 759.0,132.6 759.2,144.2 759.4,132.5 759.6,146.5 759.9,142.8 760.1,148.2 760.3,140.1 760.5,151.5 760.7,135.0 761.0,141.1 761.2,139.4 761.4,142.5 761.6,134.6 761.8,149.0 762.0,138.5 762.3,142.1 762.5,143.9 762.7,146.3 762.9,149.3 763.1,141.2 763.4,158.9 763.6,144.5 763.8,152.6 764.0,149.9 764.2,148.5 764.4,137.6 764.7,129.3 764.9,141.3 765.1,149.3 765.3,153.3 765.5,132.5 765.8,147.1 766.0,143.4 766.2,140.6 766.4,150.7 766.6,137.2 766.8,131.8 767.1,146.2 767.3,153.9 767.5,139.0 767.7,143.7 767.9,139.5 768.2,148.2 768.4,137.8 768.6,142.0 768.8,132.0 769.0,146.8 769.2,146.2 769.5,140.2 769.7,152.7 769.9,141.2 770.1,148.8 770.3,134.8 770.6,141.6 770.8,153.3 771.0,148.2 771.2,133.3 771.4,143.8 771.6,139.7 771.9,147.5 772.1,149.8 772.3,134.6 772.5,146.1 772.7,128.2 773.0,124.8 773.2,139.9 773.4,147.8 773.6,131.6 773.8,132.7 774.1,142.4 774.3,144.4 774.5,131.6 774.7,153.3 774.9,135.0 775.1,150.9 775.4,137.4 775.6,145.3 775.8,146.0 776.0,142.0 776.2,132.4 776.5,137.5 776.7,144.8 776.9,152.6 777.1,135.5 777.3,124.8 777.5,144.4 777.8,131.4 778.0,145.9 778.2,141.2 778.4,148.6 778.6,139.2 778.9,133.6 779.1,141.0 779.3,139.8 779.5,131.4 779.7,142.0 779.9,147.7 780.2,140.5 780.4,150.4 780.6,131.9 780.8,148.1 781.0,132.3 781.3,151.6 781.5,142.0 781.7,134.2 781.9,152.2 782.1,140.4 782.3,152.4 782.6,137.5 782.8,149.8 783.0,140.7 783.2,132.9 783.4,142.8 783.7,137.5 783.9,140.9 784.1,137.5 784.3,147.4 784.5,149.8 784.7,135.8 785.0,148.7 785.2,132.1 785.4,144.6 785.6,149.0 785.8,143.8 786.1,129.2 786.3,144.9 786.5,137.5 786.7,134.2 786.9,146.7 787.1,132.9 787.4,157.0 787.6,143.5 787.8,141.3 788.0,141.1 788.2,137.9 788.5,154.1 788.7,145.7 788.9,136.7 789.1,153.3 789.3,154.1 789.5,139.4 789.8,132.4 790.0,137.6 790.2,147.5 790.4,142.0 790.6,130.7 790.9,152.7 791.1,136.2 791.3,146.9 791.5,152.6 791.7,142.5 792.0,133.3 792.2,136.5 792.4,130.8 792.6,132.6 792.8,145.7 793.0,132.2 793.3,130.5 793.5,129.3 793.7,143.6 793.9,132.1 794.1,142.6 794.4,135.4 794.6,129.3 794.8,143.9 795.0,146.2 795.2,138.8 795.4,153.7 795.7,136.0 795.9,151.8 796.1,139.0 796.3,142.7 796.5,149.0 796.8,145.3 797.0,153.7 797.2,134.1 797.4,147.5 797.6,143.3 797.8,136.2 798.1,138.4 798.3,160.0 798.5,150.1 798.7,150.1 798.9,141.7 799.2,142.1 799.4,142.5 799.6,143.3 799.8,144.5 800.0,149.6 800.2,138.5 800.5,140.9 800.7,141.9 800.9,141.1 801.1,143.2 801.3,134.8 801.6,141.9 801.8,143.1 802.0,142.2 802.2,134.0 802.4,135.3 802.6,149.4 802.9,140.3 803.1,136.3 803.3,149.5 803.5,143.6 803.7,138.0 804.0,151.0 804.2,151.3 804.4,142.1 804.6,141.0 804.8,150.2 805.0,141.3 805.3,146.9 805.5,129.9 805.7,132.0 805.9,140.7 806.1,149.7 806.4,128.6 806.6,142.8 806.8,145.7 807.0,124.2 807.2,129.7 807.5,170.3 807.7,132.5 807.9,140.7 808.1,128.7 808.3,146.2 808.5,143.0 808.8,101.1 809.0,153.8 809.2,130.8 809.4,146.1 809.6,138.5 809.9,129.8 810.1,143.3 810.3,139.4 810.5,146.7 810.7,140.9 810.9,151.9 811.2,128.2 811.4,158.1 811.6,146.6 811.8,137.8 812.0,116.7 812.3,157.2 812.5,137.4 812.7,142.7 812.9,144.2 813.1,143.2 813.3,152.5 813.6,131.7 813.8,131.1 814.0,147.5 814.2,143.2 814.4,125.3 814.7,167.5 814.9,155.7 815.1,154.3 815.3,135.1 815.5,144.9 815.7,144.5 816.0,118.6 816.2,154.5 816.4,127.2 816.6,146.2 816.8,127.2 817.1,156.1 817.3,124.4 817.5,153.7 817.7,157.6 817.9,124.4 818.1,124.9 818.4,143.2 818.6,134.8 818.8,124.4 819.0,145.8 819.2,132.6 819.5,144.5 819.7,128.7 819.9,147.0 820.1,141.9 820.3,136.5 820.5,146.8 820.8,163.4 821.0,136.8 821.2,144.6 821.4,134.5 821.6,153.4 821.9,162.2 822.1,128.6 822.3,131.0 822.5,143.3 822.7,136.8 822.9,126.0 823.2,126.0 823.4,137.6 823.6,152.5 823.8,124.8 824.0,151.5 824.3,148.3 824.5,121.5 824.7,119.6 824.9,161.9 825.1,156.4 825.4,121.5 825.6,146.9 825.8,125.9 826.0,160.8 826.2,144.7 826.4,128.4 826.7,141.3 826.9,147.2 827.1,136.5 827.3,160.8 827.5,125.9 827.8,160.8 828.0,131.4 828.2,161.1 828.4,137.8 828.6,161.1 828.8,141.8 829.1,106.6 829.3,140.8 829.5,136.5 829.7,138.4 829.9,148.4 830.2,145.4 830.4,133.4 830.6,144.9 830.8,143.4 831.0,155.6 831.2,145.8 831.5,143.0 831.7,147.5 831.9,146.1 832.1,130.5 832.3,134.2 832.6,162.5 832.8,121.7 833.0,142.5 833.2,135.6 833.4,155.5 833.6,149.8 833.9,140.4 834.1,121.7 834.3,162.5 834.5,137.9 834.7,152.1 835.0,132.8 835.2,158.9 835.4,130.2 835.6,148.9 835.8,137.5 836.0,147.4 836.3,179.5 836.5,149.7 836.7,123.7 836.9,153.8 837.1,159.3 837.4,147.6 837.6,140.9 837.8,153.8 838.0,136.5 838.2,150.2 838.4,136.6 838.7,147.0 838.9,149.8 839.1,137.9 839.3,129.4 839.5,141.9 839.8,141.2 840.0,146.1 840.2,130.6 840.4,160.3 840.6,137.2 840.8,146.7 841.1,160.3 841.3,139.9 841.5,135.2 841.7,156.6 841.9,137.4 842.2,148.4 842.4,150.0 842.6,136.2 842.8,127.1 843.0,150.3 843.3,121.5 843.5,145.8 843.7,169.9 843.9,142.5 844.1,115.6 844.3,143.7 844.6,129.5 844.8,142.3 845.0,137.6 845.2,131.1 845.4,146.2 845.7,123.4 845.9,153.3 846.1,156.2 846.3,152.3 846.5,122.1 846.7,126.0 847.0,148.4 847.2,131.4 847.4,106.6 847.6,154.4 847.8,143.0 848.1,143.4 848.3,128.6 848.5,139.6 848.7,131.8 848.9,145.3 849.1,125.7 849.4,162.1 849.6,137.8 849.8,170.3 850.0,138.2 850.2,147.4 850.5,132.2 850.7,151.0 850.9,169.2 851.1,143.4 851.3,154.3 851.5,133.2 851.8,139.6 852.0,154.8 852.2,111.4 852.4,145.4 852.6,154.8 852.9,139.8 853.1,156.2 853.3,140.4 853.5,138.5 853.7,156.2 853.9,135.6 854.2,127.5 854.4,146.9 854.6,130.4 854.8,152.8 855.0,142.0 855.3,138.7 855.5,140.0 855.7,152.2 855.9,134.7 856.1,149.5 856.3,139.4 856.6,152.1 856.8,138.0 857.0,172.5 857.2,155.2 857.4,122.5 857.7,119.6 857.9,122.5 858.1,146.4 858.3,125.4 858.5,142.1 858.8,127.4 859.0,144.1 859.2,135.0 859.4,140.7 859.6,137.7 859.8,160.9 860.1,141.1 860.3,149.4 860.5,148.6 860.7,137.7 860.9,135.8 861.2,152.3 861.4,139.8 861.6,123.0 861.8,148.8 862.0,137.6 862.2,145.5 862.5,158.4 862.7,134.2 862.9,132.3 863.1,142.3 863.3,156.8 863.6,141.4 863.8,143.2 864.0,132.5 864.2,148.4 864.4,150.7 864.6,134.6 864.9,155.1 865.1,139.2 865.3,131.5 865.5,138.4 865.7,149.3 866.0,136.9 866.2,143.1 866.4,135.2 866.6,131.3 866.8,134.6 867.0,132.9 867.3,153.6 867.5,133.1 867.7,150.7 867.9,143.4 868.1,139.9 868.4,144.6 868.6,132.5 868.8,148.2 869.0,142.0 869.2,138.3 869.4,136.9 869.7,146.1 869.9,134.9 870.1,148.8 870.3,130.8 870.5,132.9 870.8,145.6 871.0,146.5 871.2,151.6 871.4,147.9 871.6,139.2 871.8,142.5 872.1,139.3 872.3,154.6 872.5,137.0 872.7,148.1 872.9,154.6 873.2,136.2 873.4,150.5 873.6,129.8 873.8,150.3 874.0,154.6 874.2,141.5 874.5,148.5 874.7,134.2 874.9,131.5 875.1,151.9 875.3,131.5 875.6,139.7 875.8,131.5 876.0,170.5 876.2,131.5 876.4,146.1 876.7,149.8 876.9,153.3 877.1,129.3 877.3,135.3 877.5,139.6 877.7,136.9 878.0,139.1 878.2,134.0 878.4,139.3 878.6,127.2 878.8,143.7 879.1,141.5 879.3,156.0 879.5,133.5 879.7,122.5 879.9,135.6 880.1,128.4 880.4,135.2 880.6,156.0 880.8,156.1 881.0,137.2 881.2,132.7 881.5,142.5 881.7,134.5 881.9,147.1 882.1,138.9 882.3,135.2 882.5,148.6 882.8,142.9 883.0,151.4 883.2,133.5 883.4,153.4 883.6,153.7 883.9,132.5 884.1,131.1 884.3,139.4 884.5,151.0 884.7,128.5 884.9,135.0 885.2,147.9 885.4,149.1 885.6,147.3 885.8,146.9 886.0,152.3 886.3,131.1 886.5,131.1 886.7,144.3 886.9,140.2 887.1,133.7 887.3,142.1 887.6,141.3 887.8,153.2 888.0,132.4 888.2,153.4 888.4,147.4 888.7,156.3 888.9,167.1 889.1,153.0 889.3,133.8 889.5,152.0 889.7,145.2 890.0,131.5 890.2,134.8 890.4,142.4 890.6,145.5 890.8,152.0 891.1,144.2 891.3,138.0 891.5,150.3 891.7,148.0 891.9,150.4 892.1,133.3 892.4,141.8 892.6,149.2 892.8,130.5 893.0,156.1 893.2,124.0 893.5,133.4 893.7,156.1 893.9,156.1 894.1,147.5 894.3,138.3 894.6,139.0 894.8,133.4 895.0,145.6 895.2,152.5 895.4,160.7 895.6,143.9 895.9,134.9 896.1,145.0 896.3,139.6 896.5,156.4 896.7,128.8 897.0,131.3 897.2,151.1 897.4,130.3 897.6,137.9 897.8,147.8 898.0,146.4 898.3,154.1 898.5,146.6 898.7,139.7 898.9,145.9 899.1,137.2 899.4,156.0 899.6,140.1 899.8,129.6 900.0,148.9 900.2,142.5 900.4,133.0 900.7,144.6 900.9,139.3 901.1,135.1 901.3,148.0 901.5,137.3 901.8,135.7 902.0,148.7 902.2,147.0 902.4,146.7 902.6,128.2 902.8,147.0 903.1,147.7 903.3,138.9 903.5,145.0 903.7,132.0 903.9,133.3 904.2,137.2 904.4,143.2 904.6,152.6 904.8,124.0 905.0,136.8 905.2,156.1 905.5,138.2 905.7,126.6 905.9,156.1 906.1,142.8 906.3,140.3 906.6,141.2 906.8,134.5 907.0,135.8 907.2,131.9 907.4,133.7 907.6,146.3 907.9,138.4 908.1,153.0 908.3,135.0 908.5,144.7 908.7,131.9 909.0,143.2 909.2,137.8 909.4,142.5 909.6,131.6 909.8,148.5 910.0,131.6 910.3,143.7 910.5,135.1 910.7,133.4 910.9,148.0 911.1,139.9 911.4,137.3 911.6,146.6 911.8,143.2 912.0,128.5 912.2,143.8 912.5,133.0 912.7,145.9 912.9,142.2 913.1,128.5 913.3,141.6 913.5,129.9 913.8,131.3 914.0,151.0 914.2,147.5 914.4,141.4 914.6,147.6 914.9,140.3 915.1,148.5 915.3,167.1 915.5,153.2 915.7,130.6 915.9,125.0 916.2,128.6 916.4,164.7 916.6,121.9 916.8,162.9 917.0,138.9 917.3,138.5 917.5,164.8 917.7,121.9 917.9,152.1 918.1,165.4 918.3,134.7 918.6,141.8 918.8,133.3 919.0,187.4 919.2,156.6 919.4,139.7 919.7,153.6 919.9,134.0 920.1,139.1 920.3,118.0 920.5,173.1 920.7,160.0 921.0,196.6 921.2,218.5 921.4,238.2 921.6,248.6 921.8,242.6 922.1,224.0 922.3,196.6 922.5,136.5 922.7,170.6 922.9,65.2 923.1,181.1 923.4,59.1 923.6,107.6 923.8,190.0 924.0,156.0 924.2,122.7 924.5,146.0 924.7,179.8 924.9,116.4 925.1,100.2 925.3,170.2 925.5,148.4 925.8,123.5 926.0,128.0 926.2,149.6 926.4,176.2 926.6,99.1 926.9,119.5 927.1,178.3 927.3,136.4 927.5,147.0 927.7,112.9 928.0,154.7 928.2,109.3 928.4,167.8 928.6,135.3 928.8,156.6 929.0,124.6 929.3,153.7 929.5,172.2 929.7,123.8 929.9,117.1 930.1,151.3 930.4,168.1 930.6,151.9 930.8,162.6 931.0,160.4 931.2,125.6 931.4,123.3 931.7,171.7 931.9,102.9 932.1,152.3 932.3,146.5 932.5,119.3 932.8,146.2 933.0,110.7 933.2,105.8 933.4,161.4 933.6,166.3 933.8,120.5 934.1,108.8 934.3,166.0 934.5,140.4 934.7,146.2 934.9,125.2 935.2,160.7 935.4,109.0 935.6,142.3 935.8,169.2 936.0,131.6 936.2,104.6 936.5,155.6 936.7,120.1 936.9,141.2 937.1,161.1 937.3,136.7 937.6,149.2 937.8,132.5 938.0,146.3 938.2,140.8 938.4,159.9 938.6,128.5 938.9,137.5 939.1,118.5 939.3,150.8 939.5,151.1 939.7,127.1 940.0,157.6 940.2,155.3 940.4,152.5 940.6,124.6 940.8,146.9 941.0,138.5 941.3,123.9 941.5,142.0 941.7,142.9 941.9,134.7 942.1,124.8 942.4,126.7 942.6,140.5 942.8,154.4 943.0,130.6 943.2,114.6 943.4,131.6 943.7,150.3 943.9,136.7 944.1,137.7 944.3,148.0 944.5,136.8 944.8,151.1 945.0,138.5 945.2,156.3 945.4,129.6 945.6,137.0 945.9,153.3 946.1,143.6 946.3,150.6 946.5,156.1 946.7,134.0 946.9,127.0 947.2,153.9 947.4,142.3 947.6,126.6 947.8,126.8 948.0,143.4 948.3,148.0 948.5,167.8 948.7,130.9 948.9,154.8 949.1,153.9 949.3,157.2 949.6,135.3 949.8,127.7 950.0,143.9 950.2,158.0 950.4,141.8 950.7,137.9 950.9,139.1 951.1,148.3 951.3,137.4 951.5,118.6 951.7,154.6 952.0,142.3 952.2,129.8 952.4,146.1 952.6,142.7 952.8,139.2 953.1,154.5 953.3,154.5 953.5,145.5 953.7,136.8 953.9,146.1 954.1,152.5 954.4,157.3 954.6,147.8 954.8,142.1 955.0,130.8 955.2,153.1 955.5,136.9 955.7,177.5 955.9,138.8 956.1,141.8 956.3,139.7 956.5,148.9 956.8,138.9 957.0,145.2 957.2,109.5 957.4,148.0 957.6,153.4 957.9,147.7 958.1,146.8 958.3,139.0 958.5,136.5 958.7,157.6 958.9,150.8 959.2,139.1 959.4,138.5 959.6,127.1 959.8,143.2 960.0,127.9 960.3,132.1 960.5,149.3 960.7,148.8 960.9,143.2 961.1,131.8 961.3,140.2 961.6,146.8 961.8,140.8 962.0,132.4 962.2,145.9 962.4,150.0 962.7,128.1 962.9,156.3 963.1,158.0 963.3,158.0 963.5,138.6 963.8,121.7 964.0,145.2 964.2,153.8 964.4,131.6 964.6,134.4 964.8,152.1 965.1,123.0 965.3,156.0 965.5,137.7 965.7,132.0 965.9,123.0 966.2,160.7 966.4,144.2 966.6,129.8 966.8,120.8 967.0,153.4 967.2,156.5 967.5,134.9 967.7,135.5 967.9,142.0 968.1,154.7 968.3,135.6 968.6,146.1 968.8,133.9 969.0,154.5 969.2,133.9 969.4,137.2 969.6,154.5 969.9,127.3 970.1,160.7 970.3,137.8" fill="none" stroke="#1ba96c" stroke-width="2" stroke-linejoin="bevel"/>
<text class="b" font-size="12.8" transform="translate(31.1,152.5) rotate(-90)" text-anchor="middle">Percentage</text>
<text class="b" font-size="13.6" x="525.5" y="389.6" text-anchor="middle">Date</text>
<text font-size="12.15" x="307.5" y="30.7" text-anchor="middle">2008–2009</text>
<text font-size="11.8" x="307.6" y="46.9" text-anchor="middle">Financial crisis</text>
<text font-size="11.6" x="923.4" y="30.8" text-anchor="middle">COVID-19</text>
<text font-size="12.4" x="924.2" y="46.4" text-anchor="middle">pandemic</text>
<text font-size="10.9" y="422.5"><tspan x="9.1" textLength="32.8" lengthAdjust="spacingAndGlyphs" font-style="italic">Source</tspan> <tspan x="42.6" textLength="3.2" lengthAdjust="spacingAndGlyphs">:</tspan> <tspan x="49.1" textLength="27.0" lengthAdjust="spacingAndGlyphs">IRESS</tspan> <tspan x="78.4" textLength="51.1" lengthAdjust="spacingAndGlyphs">ViewPoint</tspan> <tspan x="132.7" textLength="23.9" lengthAdjust="spacingAndGlyphs">Plus;</tspan> <tspan x="159.4" textLength="39.6" lengthAdjust="spacingAndGlyphs">authors’</tspan> <tspan x="203.9" textLength="59.5" lengthAdjust="spacingAndGlyphs">calculations</tspan> </text>
<text font-size="12.7" y="443.6"><tspan x="9.5" textLength="43.6" lengthAdjust="spacingAndGlyphs" font-weight="bold" stroke-width="0.12">FIGURE</tspan> <tspan x="55.7" textLength="12.4" lengthAdjust="spacingAndGlyphs" font-weight="bold" stroke-width="0.12">2:</tspan> <tspan x="69.9" textLength="81.7" lengthAdjust="spacingAndGlyphs">Johannesburg</tspan> <tspan x="154.4" textLength="15.0" lengthAdjust="spacingAndGlyphs">All</tspan> <tspan x="171.0" textLength="34.6" lengthAdjust="spacingAndGlyphs">Share</tspan> <tspan x="209.8" textLength="30.6" lengthAdjust="spacingAndGlyphs">Index</tspan> <tspan x="243.8" textLength="41.8" lengthAdjust="spacingAndGlyphs">returns</tspan> <tspan x="289.0" textLength="28.6" lengthAdjust="spacingAndGlyphs">from</tspan> <tspan x="321.0" textLength="13.6" lengthAdjust="spacingAndGlyphs">30</tspan> <tspan x="338.8" textLength="39.4" lengthAdjust="spacingAndGlyphs">August</tspan> <tspan x="382.1" textLength="27.4" lengthAdjust="spacingAndGlyphs">2004</tspan> <tspan x="414.1" textLength="13.3" lengthAdjust="spacingAndGlyphs">to</tspan> <tspan x="429.9" textLength="13.0" lengthAdjust="spacingAndGlyphs">29</tspan> <tspan x="447.4" textLength="44.9" lengthAdjust="spacingAndGlyphs">January</tspan> <tspan x="496.7" textLength="27.9" lengthAdjust="spacingAndGlyphs">2021</tspan> <tspan x="528.3" textLength="75.3" lengthAdjust="spacingAndGlyphs">(transformed</tspan> <tspan x="607.4" textLength="34.3" lengthAdjust="spacingAndGlyphs">data).</tspan> </text>
</svg>
</body></html>
